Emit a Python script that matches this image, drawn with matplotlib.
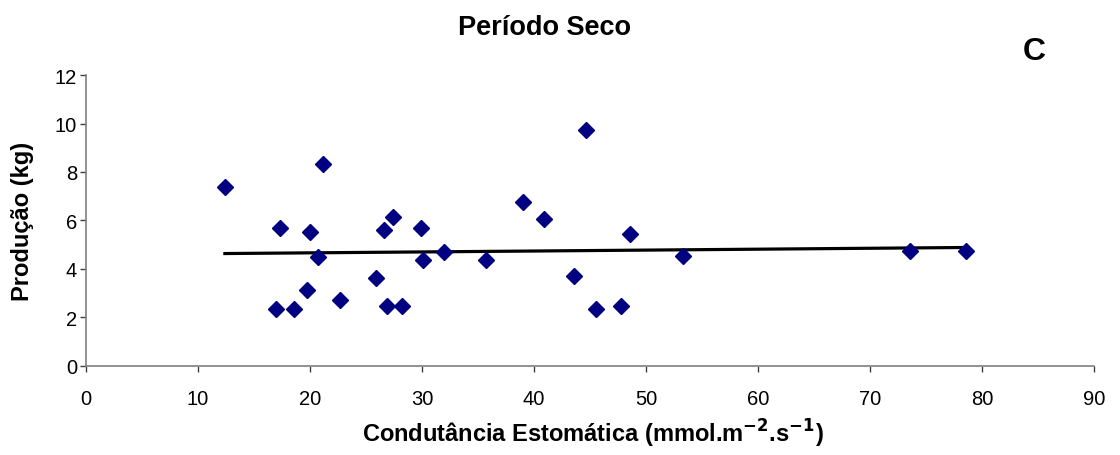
import numpy as np
import matplotlib
matplotlib.use("Agg")
import matplotlib.pyplot as plt

plt.rcParams['font.family'] = ['Liberation Sans', 'DejaVu Sans']

# condutancia estomatica (mmol m-2 s-1) vs producao (kg), periodo seco
cond = [12.4, 17.0, 17.3, 18.6, 19.7, 20.0, 20.7, 21.2, 22.7, 25.9, 26.6,
        26.9, 27.4, 28.2, 29.9, 30.1, 32.0, 35.7, 39.0, 40.9, 43.6, 44.6,
        45.5, 47.8, 48.6, 53.3, 73.6, 78.6]
prod = [7.39, 2.34, 5.67, 2.34, 3.13, 5.51, 4.49, 8.33, 2.73, 3.63, 5.60,
        2.48, 6.15, 2.48, 5.69, 4.36, 4.68, 4.36, 6.77, 6.06, 3.72, 9.73,
        2.34, 2.48, 5.44, 4.52, 4.75, 4.75]

x = np.array(cond)
y = np.array(prod)
coef = np.polyfit(x, y, 1)
xl = np.array([x.min(), x.max()])

fig = plt.figure(figsize=(11.2, 4.56), dpi=100)
ax = fig.add_axes([0.0768, 0.196, 0.900, 0.637])

ax.plot(xl, np.polyval(coef, xl), color='black', lw=2.3, zorder=2)
ax.plot(x, y, ls='none', marker='D', ms=8, color='#000080', zorder=3)

ax.set_xlim(0, 90)
ax.set_ylim(0, 12)
ax.set_xticks(np.arange(0, 91, 10))
ax.set_yticks(np.arange(0, 13, 2))
ax.tick_params(labelsize=14.5, length=4.5, width=1, color='#404040')
ax.tick_params(axis='x', pad=12)
ax.tick_params(axis='y', pad=2)

for s in ['top', 'right']:
    ax.spines[s].set_visible(False)
for s in ['left', 'bottom']:
    ax.spines[s].set_color('#808080')
    ax.spines[s].set_linewidth(1.2)

ax.set_ylabel('Produção (kg)', fontsize=17, fontweight='bold',
              va='center', ha='center')
ax.yaxis.set_label_coords(-0.0635, 0.5)
ax.set_xlabel('Condutância Estomática (mmol.m$^{\\mathbf{-2}}$.s$^{\\mathbf{-1}}$)',
              fontsize=17, fontweight='bold', va='center', ha='center')
ax.xaxis.set_label_coords(0.5025, -0.23)
fig.text(0.486, 0.938, 'Período Seco', ha='center', va='center',
         fontsize=19.5, fontweight='bold')
fig.text(0.923, 0.887, 'C', ha='center', va='center',
         fontsize=23, fontweight='bold')

fig.savefig('out.png', dpi=100)
